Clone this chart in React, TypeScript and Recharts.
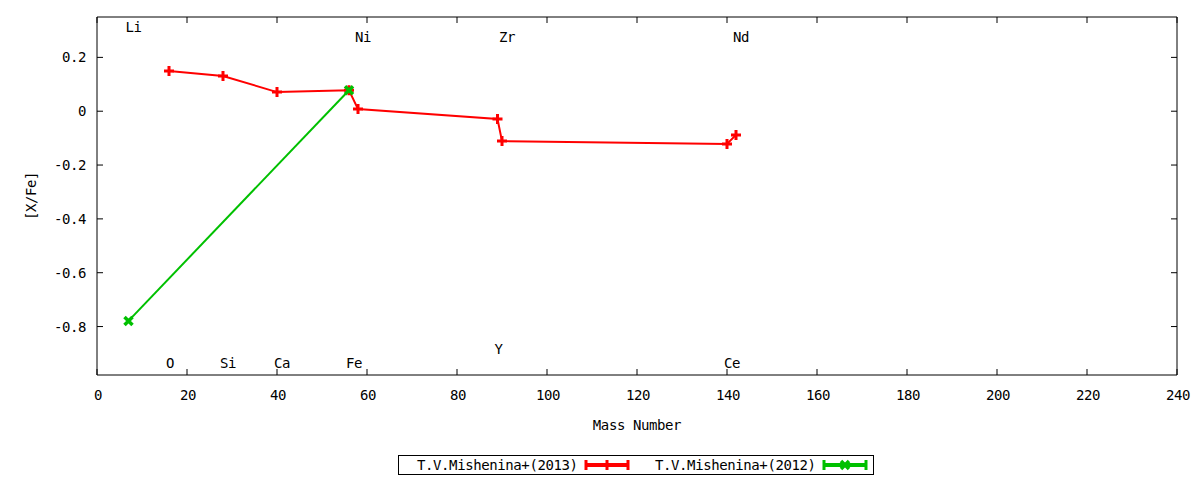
import { ComposedChart, Line, Scatter, XAxis, YAxis } from 'recharts';

const FONT = '"DejaVu Sans Mono", monospace';
const RED = '#ff0000';
const GREEN = '#00c000';

// [X/Fe] vs mass number, two sources
const seriesNames = ['T.V.Mishenina+(2013)', 'T.V.Mishenina+(2012)'];
const redMass = [16, 28, 40, 56, 58, 89, 90, 140, 142];
const redXFe = [0.149, 0.131, 0.071, 0.078, 0.008, -0.029, -0.111, -0.122, -0.088];
const greenMass = [7, 56];
const greenXFe = [-0.779, 0.078];

// element labels placed in data coords
const elemNames = ['Li', 'Ni', 'Zr', 'Nd', 'O', 'Si', 'Ca', 'Fe', 'Y', 'Ce'];
const elemMass = [7, 58, 90, 142, 16, 28, 40, 56, 89, 140];
const elemY = [0.313, 0.276, 0.276, 0.276, -0.936, -0.936, -0.936, -0.936, -0.884, -0.936];

const xTicks = [0, 20, 40, 60, 80, 100, 120, 140, 160, 180, 200, 220, 240];
const yTicks = [-0.8, -0.6, -0.4, -0.2, 0, 0.2];
const xDomain = [0, 240];
const yDomain = [-0.98, 0.35];

const redData = redMass.map((m, i) => ({ mass: m, xfe: redXFe[i] }));
const greenData = greenMass.map((m, i) => ({ mass: m, xfe: greenXFe[i] }));
const elemData = elemNames.map((name, i) => ({ mass: elemMass[i], y: elemY[i], name }));

const fmtY = (v: number) => (v === 0 ? '0' : v.toFixed(1));

const textStyle = { fontFamily: FONT, fontSize: 14, letterSpacing: -0.4, fill: '#000' };

const BottomTick = ({ x, y, payload }: any) => (
  <g>
    <line x1={x} x2={x} y1={y} y2={y - 6} stroke="#000" />
    <text x={x + 1} y={y + 25} textAnchor="middle" style={textStyle}>{payload.value}</text>
  </g>
);
const TopTick = ({ x, y }: any) => <line x1={x} x2={x} y1={y} y2={y + 6} stroke="#000" />;
const LeftTick = ({ x, y, payload }: any) => (
  <g>
    <line x1={x} x2={x + 6} y1={y} y2={y} stroke="#000" />
    <text x={x - 11} y={y + 5} textAnchor="end" style={textStyle}>{fmtY(payload.value)}</text>
  </g>
);
const RightTick = ({ x, y }: any) => <line x1={x} x2={x - 6} y1={y} y2={y} stroke="#000" />;

const PlusDot = ({ cx, cy }: any) =>
  cx == null ? null : (
    <path d={`M${cx - 5},${cy}H${cx + 5}M${cx},${cy - 5}V${cy + 5}`} stroke={RED} strokeWidth={3} fill="none" />
  );
const CrossDot = ({ cx, cy }: any) =>
  cx == null ? null : (
    <path d={`M${cx - 4},${cy - 4}L${cx + 4},${cy + 4}M${cx - 4},${cy + 4}L${cx + 4},${cy - 4}`} stroke={GREEN} strokeWidth={3.5} fill="none" />
  );

// gnuplot-style left-justified labels
const ElemLabel = ({ cx, cy, payload }: any) => (
  <text x={cx - 3} y={cy + 5} textAnchor="start" style={textStyle}>{payload.name}</text>
);

const XTitle = ({ viewBox }: any) => (
  <text x={viewBox.x + viewBox.width / 2} y={viewBox.y + 55} textAnchor="middle" style={textStyle}>Mass Number</text>
);
const YTitle = ({ viewBox }: any) => {
  const cy = viewBox.y + viewBox.height / 2;
  return (
    <text x={36} y={cy} transform={`rotate(-90 36 ${cy})`} textAnchor="middle" style={textStyle}>[X/Fe]</text>
  );
};

const LegendSample = ({ color, marker }: { color: string; marker: 'plus' | 'cross' }) => (
  <svg width={46} height={12} style={{ display: 'block' }}>
    <line x1={2} x2={44} y1={6} y2={6} stroke={color} strokeWidth={4} />
    <line x1={2} x2={2} y1={1} y2={11} stroke={color} strokeWidth={3} />
    <line x1={44} x2={44} y1={1} y2={11} stroke={color} strokeWidth={3} />
    {marker === 'plus' ? (
      <path d="M18,6H28M23,1V11" stroke={color} strokeWidth={3} />
    ) : (
      <path d="M19,2L27,10M19,10L27,2" stroke={color} strokeWidth={3.5} />
    )}
  </svg>
);

export default function App() {
  return (
    <div style={{ position: 'absolute', left: 0, top: 0, width: 1200, height: 480, background: '#fff' }}>
      <ComposedChart width={1200} height={480} margin={{ top: 0, right: 0, left: 0, bottom: 0 }}>
        <XAxis
          xAxisId="b"
          type="number"
          dataKey="mass"
          domain={xDomain}
          ticks={xTicks}
          allowDataOverflow
          orientation="bottom"
          height={105}
          tickSize={0}
          tickMargin={0}
          tick={BottomTick}
          stroke="#000"
          label={<XTitle />}
        />
        <XAxis
          xAxisId="t"
          type="number"
          dataKey="mass"
          domain={xDomain}
          ticks={xTicks}
          allowDataOverflow
          orientation="top"
          height={17}
          tickSize={0}
          tickMargin={0}
          tick={TopTick}
          stroke="#000"
        />
        <YAxis
          yAxisId="l"
          type="number"
          domain={yDomain}
          ticks={yTicks}
          allowDataOverflow
          width={97}
          tickSize={0}
          tickMargin={0}
          tick={LeftTick}
          stroke="#000"
          label={<YTitle />}
        />
        <YAxis
          yAxisId="r"
          type="number"
          orientation="right"
          domain={yDomain}
          ticks={yTicks}
          allowDataOverflow
          width={23}
          tickSize={0}
          tickMargin={0}
          tick={RightTick}
          stroke="#000"
        />
        <Scatter
          xAxisId="b"
          yAxisId="l"
          data={elemData}
          dataKey="y"
          shape={ElemLabel}
          isAnimationActive={false}
        />
        <Line
          xAxisId="b"
          yAxisId="l"
          data={redData}
          dataKey="xfe"
          stroke={RED}
          strokeWidth={2}
          dot={PlusDot}
          activeDot={false}
          isAnimationActive={false}
        />
        <Line
          xAxisId="b"
          yAxisId="l"
          data={greenData}
          dataKey="xfe"
          stroke={GREEN}
          strokeWidth={2}
          dot={CrossDot}
          activeDot={false}
          isAnimationActive={false}
        />
      </ComposedChart>
      <div
        style={{
          position: 'absolute',
          left: 398,
          top: 455,
          width: 474,
          height: 18,
          border: '1px solid #000',
          fontFamily: FONT,
          fontSize: 14,
          letterSpacing: -0.4,
        }}
      >
        <span style={{ position: 'absolute', left: 18, top: 0, lineHeight: '18px' }}>{seriesNames[0]}</span>
        <div style={{ position: 'absolute', left: 185, top: 3 }}>
          <LegendSample color={RED} marker="plus" />
        </div>
        <span style={{ position: 'absolute', left: 256, top: 0, lineHeight: '18px' }}>{seriesNames[1]}</span>
        <div style={{ position: 'absolute', left: 423, top: 3 }}>
          <LegendSample color={GREEN} marker="cross" />
        </div>
      </div>
    </div>
  );
}
